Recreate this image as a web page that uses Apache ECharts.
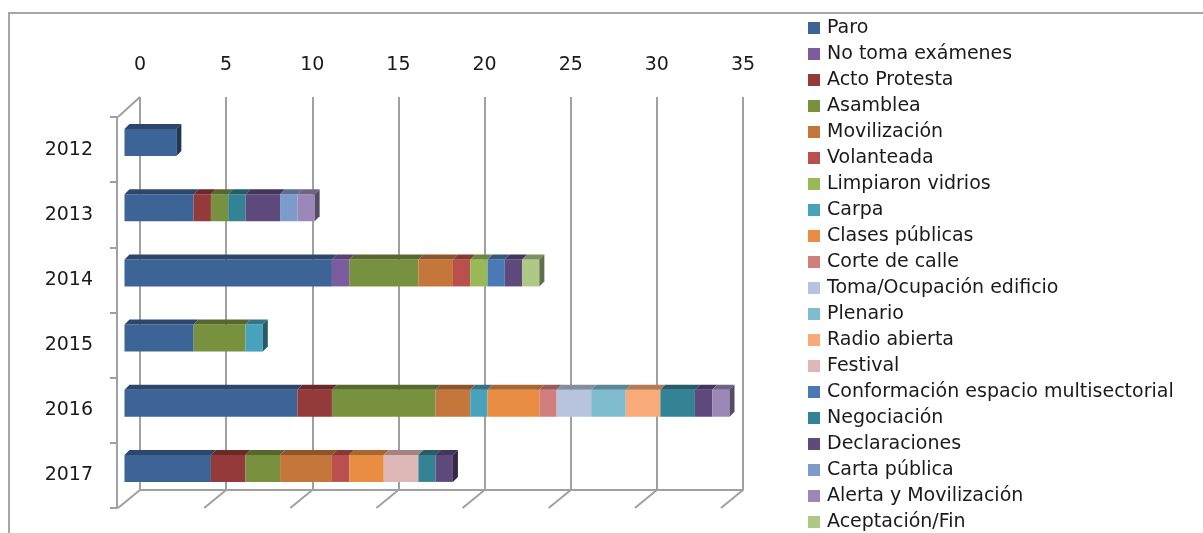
<!DOCTYPE html>
<html>
<head>
<meta charset="utf-8">
<script src="https://cdn.jsdelivr.net/npm/echarts@6/dist/echarts.min.js"></script>
<style>
html,body{margin:0;padding:0;background:#fff;}
#chart{width:1203px;height:533px;}
</style>
</head>
<body>
<div id="chart"></div>
<script>
// ---- data ----
const years = ['2012', '2013', '2014', '2015', '2016', '2017'];
const ticks = [0, 5, 10, 15, 20, 25, 30, 35];

const paro          = [3, 4, 12, 4, 10, 5];
const noTomaExam    = [0, 0, 1, 0, 0, 0];
const actoProtesta  = [0, 1, 0, 0, 2, 2];
const asamblea      = [0, 1, 4, 3, 6, 2];
const movilizacion  = [0, 0, 2, 0, 2, 3];
const volanteada    = [0, 0, 1, 0, 0, 1];
const limpiaron     = [0, 0, 1, 0, 0, 0];
const carpa         = [0, 0, 0, 1, 1, 0];
const clasesPub     = [0, 0, 0, 0, 3, 2];
const corteCalle    = [0, 0, 0, 0, 1, 0];
const tomaOcup      = [0, 0, 0, 0, 2, 0];
const plenario      = [0, 0, 0, 0, 2, 0];
const radioAbierta  = [0, 0, 0, 0, 2, 0];
const festival      = [0, 0, 0, 0, 0, 2];
const conformacion  = [0, 0, 1, 0, 0, 0];
const negociacion   = [0, 1, 0, 0, 2, 1];
const declaraciones = [0, 2, 1, 0, 1, 1];
const cartaPublica  = [0, 1, 0, 0, 0, 0];
const alertaMov     = [0, 1, 0, 0, 1, 0];
const aceptacion    = [0, 0, 1, 0, 0, 0];

const seriesNames = ['Paro', 'No toma exámenes', 'Acto Protesta', 'Asamblea', 'Movilización',
  'Volanteada', 'Limpiaron vidrios', 'Carpa', 'Clases públicas', 'Corte de calle',
  'Toma/Ocupación edificio', 'Plenario', 'Radio abierta', 'Festival',
  'Conformación espacio multisectorial', 'Negociación', 'Declaraciones', 'Carta pública',
  'Alerta y Movilización', 'Aceptación/Fin'];
const seriesValues = [paro, noTomaExam, actoProtesta, asamblea, movilizacion, volanteada,
  limpiaron, carpa, clasesPub, corteCalle, tomaOcup, plenario, radioAbierta, festival,
  conformacion, negociacion, declaraciones, cartaPublica, alertaMov, aceptacion];
const colors = ['#3C6496', '#7B5C9E', '#953A3A', '#77913F', '#C5763A', '#B9504D', '#98B955',
  '#47A3BC', '#E98D42', '#D27E7C', '#B6C4DE', '#7FBCD0', '#F8AA78', '#DFB7B6', '#4A7AB6',
  '#348394', '#5F4A7E', '#7D9CCB', '#9C88B8', '#AFC886'];

// ---- helpers ----
function shade(hex, f) {
  const n = parseInt(hex.slice(1), 16);
  const r = Math.round(((n >> 16) & 255) * f), g = Math.round(((n >> 8) & 255) * f), b = Math.round((n & 255) * f);
  return 'rgb(' + r + ',' + g + ',' + b + ')';
}
const BAR_H = 27, DEPTH = 5;

// segments for the 3D top/side faces (derived from the series arrays)
const faceData = [];
years.forEach((y, i) => {
  let acc = 0;
  let lastIdx = -1;
  seriesValues.forEach((arr, s) => { if (arr[i] > 0) lastIdx = s; });
  seriesValues.forEach((arr, s) => {
    const v = arr[i];
    if (v > 0) {
      faceData.push([i, acc, acc + v, s, s === lastIdx ? 1 : 0]);
      acc += v;
    }
  });
});

const FONT = 'DejaVu Sans';
const chart = echarts.init(document.getElementById('chart'));

const barSeries = seriesNames.map((name, s) => ({
  name: name,
  type: 'bar',
  stack: 'total',
  xAxisIndex: 1,
  yAxisIndex: 1,
  barWidth: BAR_H,
  itemStyle: { color: colors[s] },
  data: seriesValues[s],
  silent: true,
  z: 3
}));

const option = {
  animation: false,
  backgroundColor: '#ffffff',
  color: colors,
  textStyle: { fontFamily: FONT },
  legend: {
    data: seriesNames,
    orient: 'vertical',
    left: 808,
    top: 18,
    height: 515,
    padding: 0,
    itemWidth: 12,
    itemHeight: 12,
    itemGap: 6,
    icon: 'rect',
    textStyle: { fontFamily: FONT, fontSize: 19, color: '#1a1a1a', lineHeight: 20, padding: [0, 0, 0, 2] },
    selectedMode: false
  },
  grid: [
    { left: 140, right: 460, top: 97, bottom: 43 },     // back wall (ticks, gridlines)
    { left: 124.5, right: 473.5, top: 110, bottom: 32 }, // bars
    { left: 117, right: 473.5, top: 117, bottom: 25 }    // front/left wall with category labels
  ],
  xAxis: [
    {
      gridIndex: 0, type: 'value', min: 0, max: 35, interval: 5, position: 'top',
      axisLine: { show: true, lineStyle: { color: '#a0a0a0', width: 2 } },
      axisTick: { show: true, length: 5, lineStyle: { color: '#a0a0a0', width: 2 } },
      axisLabel: { fontFamily: FONT, fontSize: 19, color: '#1a1a1a', margin: 22 },
      splitLine: { show: true, lineStyle: { color: '#a0a0a0', width: 2 } }
    },
    { gridIndex: 1, type: 'value', min: 0, max: 35, show: false },
    { gridIndex: 2, type: 'value', min: 0, max: 35, show: false }
  ],
  yAxis: [
    { gridIndex: 0, type: 'value', min: 0, max: 1, show: false },
    { gridIndex: 1, type: 'category', data: years, inverse: true, show: false },
    {
      gridIndex: 2, type: 'category', data: years, inverse: true,
      axisLine: { show: true, lineStyle: { color: '#a0a0a0', width: 2 } },
      axisTick: { show: true, length: 7, inside: false, lineStyle: { color: '#a0a0a0', width: 2 } },
      axisLabel: { fontFamily: FONT, fontSize: 19, color: '#1a1a1a', margin: 24, padding: [6, 0, 0, 0] },
      splitLine: { show: false }
    }
  ],
  series: barSeries.concat([
    {
      name: 'faces',
      type: 'custom',
      xAxisIndex: 1,
      yAxisIndex: 1,
      silent: true,
      z: 4,
      clip: false,
      encode: { x: [1, 2], y: 0 },
      data: faceData,
      renderItem: function (params, api) {
        const cat = api.value(0);
        const a = api.coord([api.value(1), cat]);
        const b = api.coord([api.value(2), cat]);
        const s = api.value(3);
        const last = api.value(4);
        const yTop = a[1] - BAR_H / 2, yBot = a[1] + BAR_H / 2;
        const children = [{
          type: 'polygon',
          shape: { points: [[a[0], yTop], [b[0], yTop], [b[0] + DEPTH, yTop - DEPTH], [a[0] + DEPTH, yTop - DEPTH]] },
          style: { fill: shade(colors[s], 0.72) }
        }];
        if (last) {
          children.push({
            type: 'polygon',
            shape: { points: [[b[0], yTop], [b[0] + DEPTH, yTop - DEPTH], [b[0] + DEPTH, yBot - DEPTH], [b[0], yBot]] },
            style: { fill: shade(colors[s], 0.55) }
          });
        }
        return { type: 'group', children: children };
      }
    },
    {
      name: 'floor',
      type: 'custom',
      xAxisIndex: 0,
      yAxisIndex: 0,
      silent: true,
      clip: false,
      z: 2,
      data: ticks.map(t => [t]),
      renderItem: function (params, api) {
        const v = api.value(0);
        const p = api.coord([v, 0]);
        const children = [{
          type: 'line',
          shape: { x1: p[0], y1: p[1], x2: p[0] - 22, y2: p[1] + 18 },
          style: { stroke: '#a0a0a0', lineWidth: 2 }
        }];
        if (v === 0) {
          const q = api.coord([0, 1]);
          children.push({
            type: 'line',
            shape: { x1: q[0], y1: q[1], x2: q[0] - 22, y2: q[1] + 20 },
            style: { stroke: '#a0a0a0', lineWidth: 2 }
          });
        }
        return { type: 'group', children: children };
      }
    }
  ]),
  graphic: [{
    type: 'rect',
    shape: { x: 9, y: 13, width: 1400, height: 800 },
    style: { fill: 'none', stroke: '#a6a6a6', lineWidth: 2 },
    silent: true,
    z: -1
  }]
};
chart.setOption(option);
</script>
</body>
</html>
